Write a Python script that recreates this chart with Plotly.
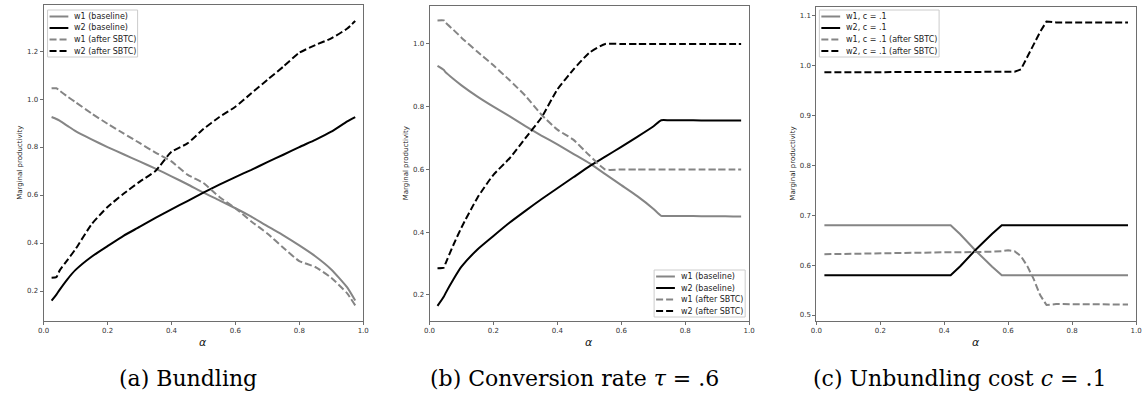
import plotly.graph_objects as go

W, H = 1143, 394

# ---------------- data ----------------
# (a) Bundling
alpha_a = [0.025, 0.04, 0.05, 0.075, 0.10, 0.15, 0.20, 0.25, 0.30, 0.35, 0.40, 0.45,
           0.50, 0.55, 0.60, 0.65, 0.70, 0.75, 0.80, 0.85, 0.90, 0.95, 0.975]
w1_base_a = [0.925, 0.917, 0.910, 0.888, 0.866, 0.832, 0.800, 0.770, 0.740, 0.710, 0.678, 0.645,
             0.610, 0.578, 0.545, 0.510, 0.470, 0.432, 0.390, 0.345, 0.290, 0.215, 0.160]
w2_base_a = [0.160, 0.185, 0.205, 0.250, 0.288, 0.343, 0.387, 0.430, 0.467, 0.505, 0.540, 0.575,
             0.610, 0.643, 0.675, 0.705, 0.737, 0.768, 0.800, 0.830, 0.864, 0.907, 0.925]
w1_sbtc_a = [1.045, 1.045, 1.035, 1.010, 0.987, 0.940, 0.897, 0.857, 0.817, 0.777, 0.740, 0.685,
             0.650, 0.592, 0.545, 0.490, 0.440, 0.380, 0.325, 0.300, 0.255, 0.190, 0.140]
w2_sbtc_a = [0.255, 0.258, 0.285, 0.330, 0.375, 0.478, 0.550, 0.605, 0.655, 0.700, 0.780, 0.815,
             0.875, 0.925, 0.968, 1.024, 1.080, 1.135, 1.193, 1.225, 1.253, 1.294, 1.325]

# (b) Conversion rate tau = .6
alpha_b = [0.025, 0.045, 0.05, 0.075, 0.10, 0.15, 0.20, 0.25, 0.30, 0.35, 0.40, 0.45, 0.50,
           0.55, 0.60, 0.65, 0.70, 0.725, 0.75, 0.80, 0.85, 0.90, 0.95, 0.975]
w1_base_b = [0.930, 0.917, 0.910, 0.888, 0.868, 0.832, 0.800, 0.770, 0.738, 0.708, 0.680, 0.650, 0.620,
             0.585, 0.550, 0.515, 0.475, 0.452, 0.452, 0.452, 0.451, 0.451, 0.450, 0.450]
w2_base_b = [0.165, 0.195, 0.205, 0.250, 0.290, 0.345, 0.388, 0.430, 0.468, 0.505, 0.540, 0.575, 0.610,
             0.641, 0.672, 0.704, 0.737, 0.757, 0.757, 0.757, 0.756, 0.756, 0.756, 0.756]
w1_sbtc_b = [1.075, 1.075, 1.068, 1.045, 1.020, 0.975, 0.932, 0.885, 0.835, 0.775, 0.727, 0.695, 0.645,
             0.600, 0.600, 0.600, 0.600, 0.600, 0.600, 0.600, 0.600, 0.600, 0.600, 0.600]
w2_sbtc_b = [0.285, 0.287, 0.300, 0.360, 0.415, 0.510, 0.583, 0.635, 0.700, 0.765, 0.855, 0.918, 0.972,
             1.000, 1.000, 1.000, 1.000, 1.000, 1.000, 1.000, 1.000, 1.000, 1.000, 1.000]

# (c) Unbundling cost c = .1
alpha_c = [0.025, 0.10, 0.20, 0.30, 0.40, 0.42, 0.45, 0.50, 0.55, 0.58, 0.60, 0.62,
           0.64, 0.66, 0.68, 0.70, 0.72, 0.75, 0.80, 0.85, 0.90, 0.95, 0.975]
w1_c = [0.680, 0.680, 0.680, 0.680, 0.680, 0.680, 0.662, 0.628, 0.597, 0.580, 0.580, 0.580,
        0.580, 0.580, 0.580, 0.580, 0.580, 0.580, 0.580, 0.580, 0.580, 0.580, 0.580]
w2_c = [0.580, 0.580, 0.580, 0.580, 0.580, 0.580, 0.598, 0.632, 0.663, 0.680, 0.680, 0.680,
        0.680, 0.680, 0.680, 0.680, 0.680, 0.680, 0.680, 0.680, 0.680, 0.680, 0.680]
w1_sbtc_c = [0.622, 0.623, 0.624, 0.625, 0.626, 0.626, 0.626, 0.626, 0.627, 0.628, 0.630, 0.628,
             0.618, 0.598, 0.572, 0.540, 0.520, 0.522, 0.522, 0.521, 0.521, 0.521, 0.521]
w2_sbtc_c = [0.987, 0.987, 0.988, 0.987, 0.987, 0.987, 0.987, 0.987, 0.987, 0.987, 0.987, 0.988,
             0.993, 1.018, 1.040, 1.068, 1.089, 1.087, 1.087, 1.087, 1.087, 1.087, 1.087]

names_ab = ["w1 (baseline)", "w2 (baseline)", "w1 (after SBTC)", "w2 (after SBTC)"]
names_c = ["w1, c = .1", "w2, c = .1", "w1, c = .1 (after SBTC)", "w2, c = .1 (after SBTC)"]
captions = ["(a) Bundling", "(b) Conversion rate <i>τ</i> = .6", "(c) Unbundling cost <i>c</i> = .1"]
xticks = [0.0, 0.2, 0.4, 0.6, 0.8, 1.0]
yticks_a = [0.2, 0.4, 0.6, 0.8, 1.0, 1.2]
yticks_b = [0.2, 0.4, 0.6, 0.8, 1.0]
yticks_c = [0.5, 0.6, 0.7, 0.8, 0.9, 1.0, 1.1]

# ---------------- styling / layout ----------------
GRAY = "#858585"
BLACK = "#000000"
DASH = "7px,3px"
styles = [(GRAY, "solid"), (BLACK, "solid"), (GRAY, DASH), (BLACK, DASH)]

# panel pixel boxes: left, right, top, bottom
boxes = [(38, 361, 5, 321), (428, 751, 6, 321), (819, 1142, 7, 321)]
yranges = [[0.075, 1.392], [0.117, 1.121], [0.488, 1.118]]
ytick_sets = [yticks_a, yticks_b, yticks_c]
caption_x = [184, 575, 964]
shapes_kind = ["spline", "spline", "linear"]
# legend boxes: left, top, width, height (pixels)
legend_boxes = [(42, 10, 91, 47), (655, 270, 92, 47), (822, 10, 121, 47)]

panels = [
    (alpha_a, [w1_base_a, w2_base_a, w1_sbtc_a, w2_sbtc_a], names_ab),
    (alpha_b, [w1_base_b, w2_base_b, w1_sbtc_b, w2_sbtc_b], names_ab),
    (alpha_c, [w1_c, w2_c, w1_sbtc_c, w2_sbtc_c], names_c),
]

fig = go.Figure()
for i, (xs, series, names) in enumerate(panels):
    sfx = "" if i == 0 else str(i + 1)
    for ys, name, (col, dash) in zip(series, names, styles):
        fig.add_trace(go.Scatter(
            x=xs, y=ys, name=name, mode="lines",
            line=dict(color=col, width=2, dash=dash, shape=shapes_kind[i], smoothing=0.5),
            xaxis="x" + sfx, yaxis="y" + sfx, showlegend=False,
        ))

axis_common = dict(
    showline=True, mirror=True, linecolor="#6e6e6e", linewidth=1,
    ticks="outside", ticklen=3, tickwidth=1, tickcolor="#6e6e6e",
    tickfont=dict(family="DejaVu Sans", size=7, color="#333333"),
    showgrid=False, zeroline=False,
)

layout = dict(
    width=W, height=H, margin=dict(l=0, r=0, t=0, b=0),
    paper_bgcolor="white", plot_bgcolor="white", showlegend=False,
)


def px(xp):
    return xp / W


def py(yp):
    return 1 - yp / H


annotations = []
shapes = []
for i, (l, r, t, b) in enumerate(boxes):
    sfx = "" if i == 0 else str(i + 1)
    layout["xaxis" + sfx] = dict(
        axis_common, domain=[px(l), px(r)], range=[0, 1],
        tickvals=xticks, ticktext=[f"{v:.1f}" for v in xticks],
        anchor="y" + sfx,
    )
    layout["yaxis" + sfx] = dict(
        axis_common, domain=[py(b), py(t)], range=yranges[i],
        tickvals=ytick_sets[i], ticktext=[f"{v:.1f}" for v in ytick_sets[i]],
        anchor="x" + sfx,
    )
    annotations.append(dict(
        text="Marginal productivity", x=px(l - 24), y=py((t + b) / 2),
        xref="paper", yref="paper", showarrow=False, textangle=-90,
        font=dict(family="DejaVu Sans", size=7, color="#222222"),
        xanchor="center", yanchor="middle",
    ))
    annotations.append(dict(
        text="<i>α</i>", x=px((l + r) / 2), y=py(342),
        xref="paper", yref="paper", showarrow=False,
        font=dict(family="DejaVu Sans", size=11, color="#111111"),
        xanchor="center", yanchor="middle",
    ))
    annotations.append(dict(
        text=captions[i], x=px(caption_x[i]), y=py(378),
        xref="paper", yref="paper", showarrow=False,
        font=dict(family="DejaVu Serif", size=22, color="#000000"),
        xanchor="center", yanchor="middle",
    ))

    # legend (box + key lines + labels)
    lx, ly, lw, lh = legend_boxes[i]
    shapes.append(dict(
        type="rect", xref="paper", yref="paper",
        x0=px(lx), x1=px(lx + lw), y0=py(ly), y1=py(ly + lh),
        line=dict(color="#cccccc", width=1), fillcolor="rgba(255,255,255,0.85)",
        layer="above",
    ))
    names = panels[i][2]
    for k, (name, (col, dash)) in enumerate(zip(names, styles)):
        yk = ly + 6.5 + 11.5 * k
        shapes.append(dict(
            type="line", xref="paper", yref="paper",
            x0=px(lx + 2), x1=px(lx + 21), y0=py(yk), y1=py(yk),
            line=dict(color=col, width=2, dash=dash), layer="above",
        ))
        annotations.append(dict(
            text=name, x=px(lx + 25), y=py(yk),
            xref="paper", yref="paper", showarrow=False,
            font=dict(family="DejaVu Sans", size=8, color="#222222"),
            xanchor="left", yanchor="middle",
        ))

layout["annotations"] = annotations
layout["shapes"] = shapes

fig.update_layout(**layout)
fig.write_html("out.html")
